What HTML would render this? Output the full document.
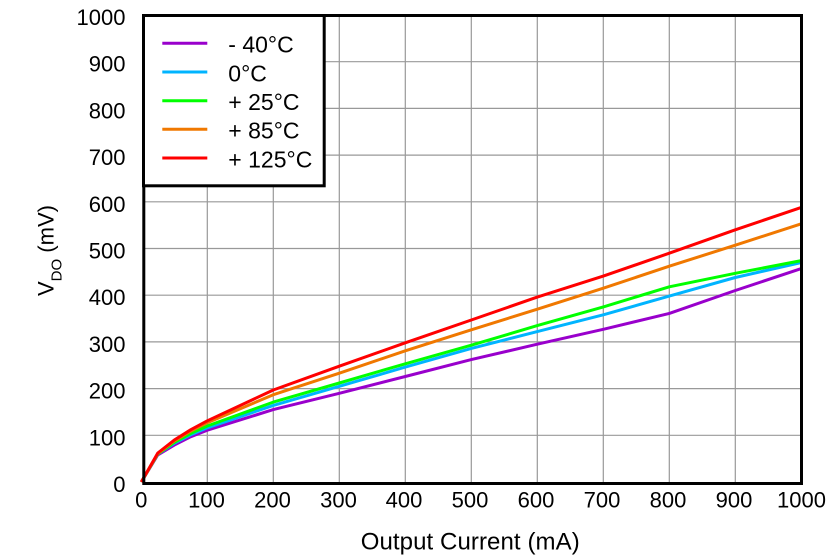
<!DOCTYPE html>
<html>
<head>
<meta charset="utf-8">
<style>
html,body{margin:0;padding:0;background:#fff;}
svg{display:block;}
text{font-family:"Liberation Sans",Arial,sans-serif;fill:#000;}
</style>
</head>
<body>
<svg width="839" height="559" viewBox="0 0 839 559" xmlns="http://www.w3.org/2000/svg">
<rect x="0" y="0" width="839" height="559" fill="#fff"/>
<!-- grid -->
<g stroke="#999" stroke-width="1.2">
<line x1="207.3" y1="15" x2="207.3" y2="482"/>
<line x1="273.3" y1="15" x2="273.3" y2="482"/>
<line x1="339.3" y1="15" x2="339.3" y2="482"/>
<line x1="405.3" y1="15" x2="405.3" y2="482"/>
<line x1="471.3" y1="15" x2="471.3" y2="482"/>
<line x1="537.3" y1="15" x2="537.3" y2="482"/>
<line x1="603.3" y1="15" x2="603.3" y2="482"/>
<line x1="669.3" y1="15" x2="669.3" y2="482"/>
<line x1="735.3" y1="15" x2="735.3" y2="482"/>
<line x1="143" y1="435.3" x2="801" y2="435.3"/>
<line x1="143" y1="388.6" x2="801" y2="388.6"/>
<line x1="143" y1="341.9" x2="801" y2="341.9"/>
<line x1="143" y1="295.2" x2="801" y2="295.2"/>
<line x1="143" y1="248.5" x2="801" y2="248.5"/>
<line x1="143" y1="201.8" x2="801" y2="201.8"/>
<line x1="143" y1="155.1" x2="801" y2="155.1"/>
<line x1="143" y1="108.4" x2="801" y2="108.4"/>
<line x1="143" y1="61.7" x2="801" y2="61.7"/>
</g>
<!-- series -->
<g fill="none" stroke-width="3" stroke-linejoin="round">
<polyline stroke="#9900cc" points="141.3,482 157.8,454.9 174.3,445.1 190.8,436.7 207.3,430.2 273.3,409.6 339.3,393.3 405.3,376.5 471.3,359.6 537.3,344.2 603.3,329.3 669.3,313.4 735.3,290.5 801.3,268.6"/>
<polyline stroke="#00b4ff" points="141.3,482 157.8,454 174.3,443.2 190.8,434.8 207.3,427.8 273.3,405.4 339.3,386.3 405.3,367.1 471.3,348.4 537.3,331.6 603.3,314.8 669.3,296.1 735.3,277.5 801.3,262.5"/>
<polyline stroke="#00ff00" points="141.3,482 157.8,454 174.3,442.3 190.8,433.4 207.3,426 273.3,402.1 339.3,383 405.3,363.8 471.3,345.2 537.3,325.6 603.3,306.9 669.3,286.8 735.3,273.3 801.3,260.6"/>
<polyline stroke="#f07800" points="141.3,482 157.8,453.5 174.3,440.9 190.8,431.1 207.3,422.7 273.3,394.7 339.3,373.2 405.3,350.8 471.3,329.8 537.3,309.2 603.3,288.2 669.3,266.2 735.3,245.2 801.3,223.8"/>
<polyline stroke="#ff0000" points="141.3,482 157.8,453 174.3,440 190.8,429.7 207.3,420.8 273.3,390 339.3,366.2 405.3,342.8 471.3,320 537.3,297.1 603.3,276.1 669.3,253.2 735.3,229.8 801.3,207.4"/>
</g>
<!-- plot border -->
<rect x="143.8" y="15.5" width="657.7" height="468" fill="none" stroke="#000" stroke-width="3"/>
<!-- legend -->
<rect x="143.5" y="15.5" width="180.7" height="170.3" fill="#fff" stroke="#000" stroke-width="3"/>
<g stroke-width="3">
<line x1="162.3" y1="43.3" x2="207.3" y2="43.3" stroke="#9900cc"/>
<line x1="162.3" y1="72" x2="207.3" y2="72" stroke="#00b4ff"/>
<line x1="162.3" y1="100.7" x2="207.3" y2="100.7" stroke="#00ff00"/>
<line x1="162.3" y1="129.3" x2="207.3" y2="129.3" stroke="#f07800"/>
<line x1="162.3" y1="158" x2="207.3" y2="158" stroke="#ff0000"/>
</g>
<g font-size="23">
<text x="228.3" y="52.7">- 40°C</text>
<text x="228.3" y="81.3">0°C</text>
<text x="228.3" y="110">+ 25°C</text>
<text x="228.3" y="138.7">+ 85°C</text>
<text x="228.3" y="167.3">+ 125°C</text>
</g>
<!-- y tick labels -->
<g font-size="22" text-anchor="end">
<text x="125.5" y="492">0</text>
<text x="125.5" y="445.3">100</text>
<text x="125.5" y="398.6">200</text>
<text x="125.5" y="351.9">300</text>
<text x="125.5" y="305.2">400</text>
<text x="125.5" y="258.5">500</text>
<text x="125.5" y="211.8">600</text>
<text x="125.5" y="165.1">700</text>
<text x="125.5" y="118.4">800</text>
<text x="125.5" y="71.7">900</text>
<text x="125.5" y="25">1000</text>
</g>
<!-- x tick labels -->
<g font-size="22" text-anchor="middle">
<text x="141.3" y="507.5">0</text>
<text x="206.5" y="507.5">100</text>
<text x="272.5" y="507.5">200</text>
<text x="338.5" y="507.5">300</text>
<text x="404" y="507.5">400</text>
<text x="470" y="507.5">500</text>
<text x="536" y="507.5">600</text>
<text x="602" y="507.5">700</text>
<text x="668" y="507.5">800</text>
<text x="734" y="507.5">900</text>
<text x="801.5" y="507.5">1000</text>
</g>
<!-- axis titles -->
<text x="360.7" y="549.3" font-size="24" textLength="219" lengthAdjust="spacing">Output Current (mA)</text>
<text transform="translate(53.5,296) rotate(-90)" font-size="22">V<tspan font-size="15" dy="8">DO</tspan><tspan dy="-8"> (mV)</tspan></text>
</svg>
</body>
</html>
